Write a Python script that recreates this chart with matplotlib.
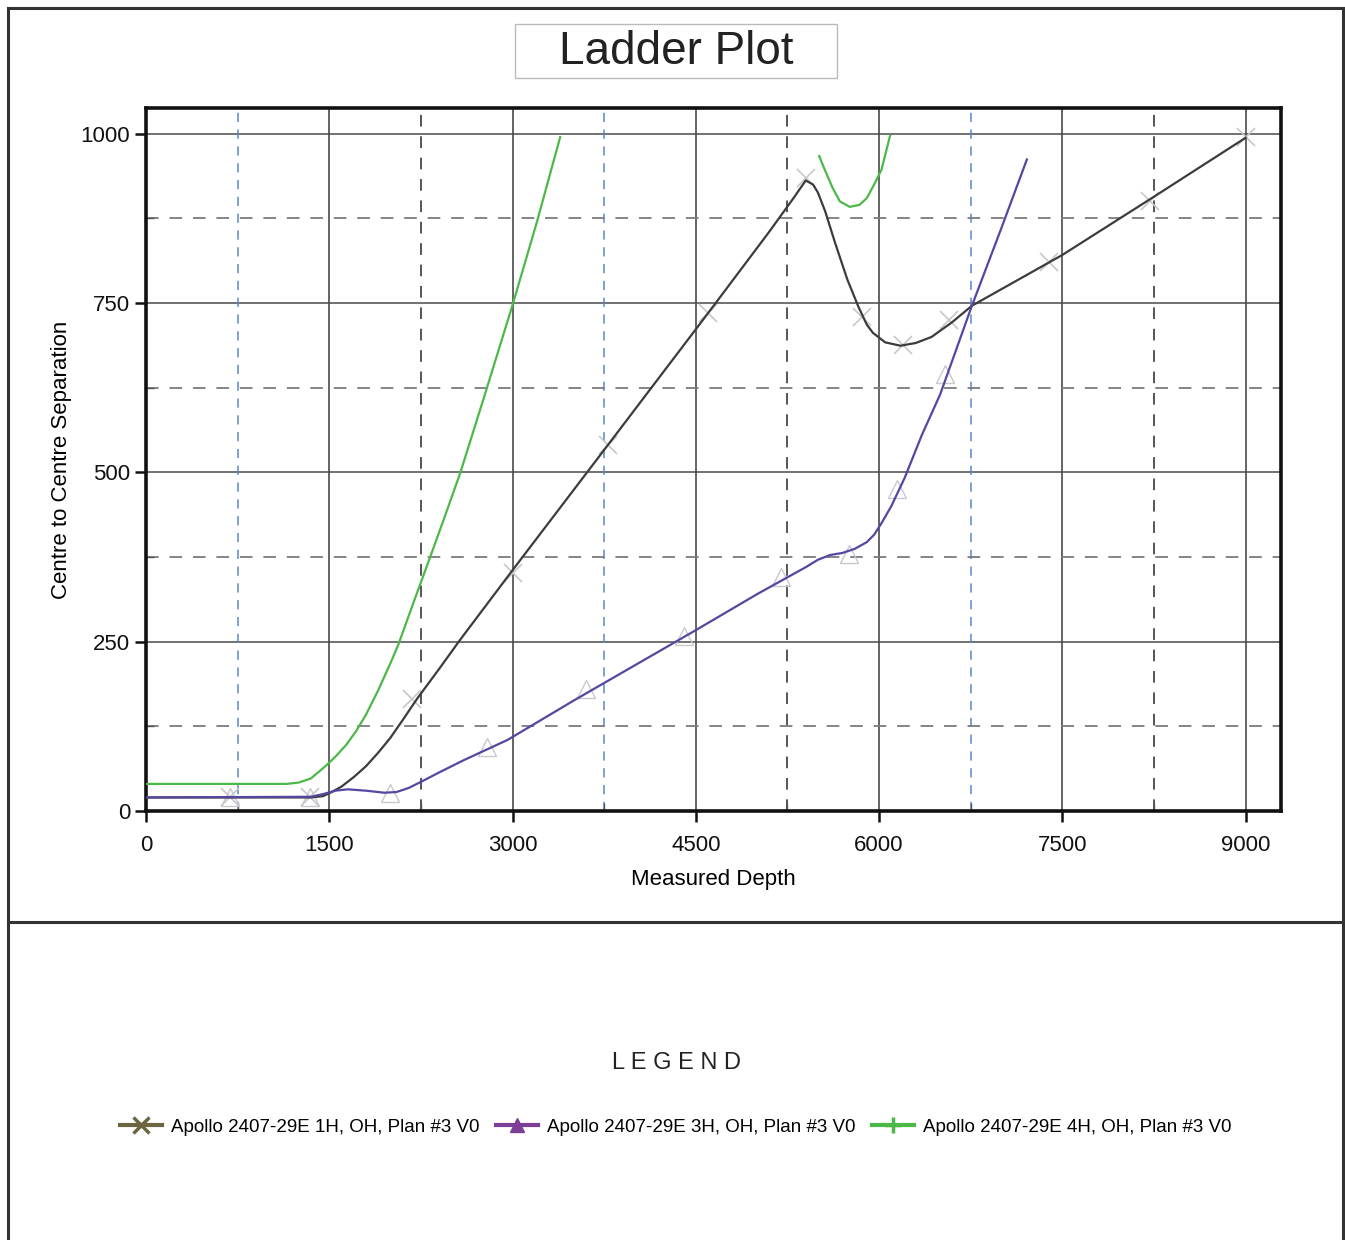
import numpy as np
import matplotlib.pyplot as plt
from matplotlib.lines import Line2D
from matplotlib.patches import Rectangle

plt.rcParams['font.family'] = ['Liberation Sans', 'DejaVu Sans']

# --- data ---
# Apollo 2407-29E 1H (dark line, x markers)
md_1h = [0, 1350, 1450, 1520, 1600, 1700, 1800, 1900, 2000, 2100, 2220, 2400, 2572, 2981, 3800, 4600, 5100, 5300,
         5400, 5460, 5500, 5560, 5640, 5740, 5830, 5900, 5950, 6050, 6175, 6300, 6430, 6600, 6760,
         7500, 8250, 9000]
sep_1h = [20, 20, 22, 28, 36, 50, 66, 86, 108, 134, 166, 210, 253, 351, 545, 735, 855, 905,
          931, 925, 913, 885, 839, 785, 745, 718, 706, 692, 687, 691, 700, 722, 746,
          821, 907, 994]
# Apollo 2407-29E 3H (purple, triangle markers)
md_3h = [0, 1350, 1450, 1550, 1650, 1800, 1950, 2050, 2150, 2250, 2400, 2600, 2960, 3500, 4000,
         4500, 5000, 5400, 5500, 5600, 5700, 5800, 5900, 5960, 6020, 6100, 6210, 6350, 6500, 6760,
         7000, 7210]
sep_3h = [20, 21, 25, 30, 32, 30, 27, 28, 34, 43, 57, 75, 105, 163, 215,
          267, 320, 360, 371, 378, 381, 387, 397, 408, 425, 450, 492, 555, 615, 746,
          860, 962]
# Apollo 2407-29E 4H (green), two pieces
md_4h_a = [0, 1150, 1250, 1350, 1480, 1560, 1640, 1720, 1800, 1900, 2000, 2064, 2200, 2326, 2450, 2572,
           2760, 3000, 3200, 3390]
sep_4h_a = [40, 40, 42, 48, 68, 82, 98, 118, 142, 178, 218, 245, 313, 375, 437, 499,
            607, 747, 870, 995]
md_4h_b = [5510, 5560, 5620, 5680, 5760, 5840, 5900, 5960, 6020, 6090]
sep_4h_b = [967, 945, 920, 900, 892, 895, 905, 925, 947, 997]

# faint marker positions along the lines
mk_1h_x = [690, 1345, 2180, 3000, 3780, 4600, 5400, 5860, 6200, 6570, 7390, 8220, 9000]
mk_1h_y = [20, 20, 165, 351, 540, 735, 935, 730, 688, 725, 810, 900, 995]
mk_3h_x = [690, 1345, 2000, 2790, 3600, 4400, 5200, 5750, 6150, 6540]
mk_3h_y = [20, 21, 27, 95, 180, 258, 345, 380, 475, 645]

labels = ['Apollo 2407-29E 1H, OH, Plan #3 V0',
          'Apollo 2407-29E 3H, OH, Plan #3 V0',
          'Apollo 2407-29E 4H, OH, Plan #3 V0']

fig = plt.figure(figsize=(13.45, 12.4), dpi=100)
ax = fig.add_axes([146/1345, 1 - 811/1240, (1281-146)/1345, (811-108)/1240])

ax.set_xlim(0, 9290)
ax.set_ylim(0, 1038)

# grid: solid major, dashed minor (gray and blue)
for x in [1500, 3000, 4500, 6000, 7500, 9000]:
    ax.axvline(x, color='#3a3a3a', lw=1.1, zorder=1)
for y in [250, 500, 750, 1000]:
    ax.axhline(y, color='#4a4a4a', lw=1.1, zorder=1)
for x in [750, 3750, 6750]:
    ax.axvline(x, color='#5b86c8', lw=1.1, ls=(0, (6, 5)), zorder=1)
for x in [2250, 5250, 8250]:
    ax.axvline(x, color='#555555', lw=1.4, ls=(0, (6, 5)), zorder=1)
for y in [125, 375, 625, 875]:
    ax.axhline(y, color='#7a7a80', lw=1.3, ls=(0, (7, 6)), zorder=1)

# faint markers
ax.plot(mk_1h_x, mk_1h_y, ls='none', marker='x', ms=13, mew=1.2, color='#c8c8c8', zorder=2)
ax.plot(mk_3h_x, mk_3h_y, ls='none', marker='^', ms=13, mew=1.0, mfc='none', mec='#c8c8d0', zorder=2)

ax.plot(md_1h, sep_1h, color='#3c3c3c', lw=1.6, zorder=3)
ax.plot(md_3h, sep_3h, color='#5546a0', lw=1.6, zorder=3)
ax.plot(md_4h_a, sep_4h_a, color='#4cb848', lw=1.6, zorder=3)
ax.plot(md_4h_b, sep_4h_b, color='#4cb848', lw=1.6, zorder=3)

ax.set_xticks([0, 1500, 3000, 4500, 6000, 7500, 9000])
ax.set_yticks([0, 250, 500, 750, 1000])
ax.set_xticks([750, 2250, 3750, 5250, 6750, 8250], minor=True)
ax.set_yticks([125, 375, 625, 875], minor=True)
ax.tick_params(which='major', direction='out', length=8, width=1.8, labelsize=16, colors='#111111')
ax.tick_params(axis='x', which='major', pad=9)
ax.tick_params(which='minor', direction='in', length=6, width=1.0, colors='#555555')
for s in ax.spines.values():
    s.set_linewidth(2.6)
    s.set_color('#111111')

ax.set_xlabel('Measured Depth', fontsize=16, labelpad=10)
ax.set_ylabel('Centre to Centre Separation', fontsize=16, labelpad=6)

# title box
fig.add_artist(Rectangle((515/1345, 1 - 78/1240), 322/1345, 54/1240, transform=fig.transFigure,
                         fc='white', ec='#bbbbbb', lw=1.0))
fig.text(676/1345, 1 - 52/1240, 'Ladder Plot', ha='center', va='center', fontsize=33,
         color='#222222')

# page frame lines
frame_kw = dict(color='#333333', lw=2.2, transform=fig.transFigure)
fig.add_artist(Line2D([8/1345, 8/1345], [0, 1 - 8/1240], **frame_kw))
fig.add_artist(Line2D([1343/1345, 1343/1345], [0, 1 - 8/1240], **frame_kw))
fig.add_artist(Line2D([8/1345, 1343/1345], [1 - 8/1240, 1 - 8/1240], **frame_kw))
fig.add_artist(Line2D([8/1345, 1343/1345], [1 - 922/1240, 1 - 922/1240], **frame_kw))

# legend
fig.text(676/1345, 1 - 1063/1240, 'L E G E N D', ha='center', va='center', fontsize=17, color='#222222')
handles = [Line2D([], [], color='#6b6640', lw=3, marker='x', ms=11, mew=2.5),
           Line2D([], [], color='#7b3f98', lw=3, marker='^', ms=10),
           Line2D([], [], color='#4cb848', lw=3, marker='+', ms=11, mew=2.5)]
fig.legend(handles, labels, loc='center', bbox_to_anchor=(676/1345, 1 - 1127/1240), ncol=3,
           frameon=False, fontsize=13.5, handlelength=2.2, handletextpad=0.5, columnspacing=0.9)

fig.savefig('out.png', dpi=100)
